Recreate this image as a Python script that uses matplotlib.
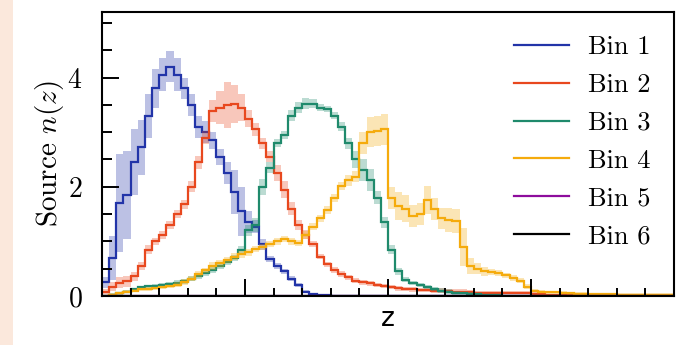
import numpy as np
import matplotlib
matplotlib.use("Agg")
import matplotlib.pyplot as plt
from matplotlib.patches import Rectangle
from matplotlib.ticker import MultipleLocator, NullFormatter

plt.rcParams["font.family"] = "serif"
plt.rcParams["font.serif"] = ["cmr10", "DejaVu Serif"]
plt.rcParams["mathtext.fontset"] = "cm"
plt.rcParams["axes.formatter.use_mathtext"] = True

# Redshift grid (bin edges) shared by all tomographic bins
Z_EDGES = np.round(np.arange(0.0, 4.0 + 1e-9, 0.05), 2)
N_STEPS = len(Z_EDGES) - 1

bin_labels = ["Bin 1", "Bin 2", "Bin 3", "Bin 4", "Bin 5", "Bin 6"]
bin_colors = ["#2234a8", "#e8481e", "#1f8a6c", "#f5ab0c", "#8e0c9c", "#000000"]

# n(z) per step; values beyond the end of each list are zero
nz_bin1 = [0.25, 0.7, 1.7, 1.85, 2.45, 2.72, 3.3, 3.8, 4.05, 4.2,
           4.05, 3.8, 3.5, 3.1, 3.0, 2.85, 2.55, 2.25, 1.9, 1.55,
           1.35, 1.27, 0.95, 0.68, 0.55, 0.45, 0.32, 0.2, 0.08, 0.03,
           0.02, 0.01]
err_bin1 = [0.1, 0.4, 0.9, 0.8, 0.6, 0.5, 0.4, 0.35, 0.3, 0.28,
            0.3, 0.2, 0.2, 0.2, 0.2, 0.15, 0.15, 0.2, 0.4, 0.45,
            0.2, 0.12, 0.1, 0.06, 0.05, 0.05, 0.04, 0.04, 0.03, 0.03,
            0.02, 0.02]

nz_bin2 = [0.08, 0.17, 0.24, 0.27, 0.36, 0.55, 0.85, 1.0, 1.12, 1.3,
           1.5, 1.68, 2.0, 2.45, 2.9, 3.38, 3.45, 3.5, 3.52, 3.45,
           3.25, 3.05, 2.8, 2.55, 2.25, 1.95, 1.6, 1.3, 1.12, 0.95,
           0.72, 0.58, 0.48, 0.4, 0.34, 0.28, 0.25, 0.23, 0.2, 0.18,
           0.16, 0.14, 0.13, 0.12, 0.11, 0.11, 0.1, 0.1, 0.09, 0.08,
           0.08, 0.07, 0.06, 0.06, 0.06, 0.06, 0.06, 0.06, 0.06, 0.06,
           0.04, 0.03, 0.02, 0.02, 0.01, 0.01]
err_bin2 = [0.05, 0.08, 0.1, 0.1, 0.08, 0.08, 0.08, 0.07, 0.07, 0.07,
            0.08, 0.08, 0.1, 0.12, 0.12, 0.2, 0.3, 0.42, 0.35, 0.25,
            0.15, 0.12, 0.1, 0.1, 0.15, 0.15, 0.12, 0.1, 0.08, 0.06,
            0.05, 0.05, 0.05, 0.05, 0.05, 0.05, 0.05, 0.05, 0.04, 0.04,
            0.04, 0.04, 0.04, 0.04, 0.04, 0.04, 0.04, 0.04, 0.04, 0.04,
            0.04, 0.04, 0.03, 0.03, 0.03, 0.03, 0.03, 0.03, 0.03, 0.03,
            0.03, 0.03, 0.02, 0.02, 0.02, 0.02]

nz_bin3 = [0.0, 0.02, 0.05, 0.08, 0.12, 0.16, 0.18, 0.19, 0.2, 0.22,
           0.24, 0.27, 0.32, 0.37, 0.42, 0.48, 0.55, 0.62, 0.7, 0.85,
           1.2, 1.3, 2.0, 2.35, 2.8, 2.95, 3.3, 3.45, 3.52, 3.52,
           3.45, 3.42, 3.3, 3.1, 2.8, 2.5, 2.3, 2.12, 1.8, 1.35,
           0.85, 0.45, 0.3, 0.24, 0.2, 0.16, 0.13, 0.1, 0.08, 0.06,
           0.05, 0.04, 0.03, 0.02, 0.02, 0.01]
err_bin3 = [0.02, 0.03, 0.03, 0.03, 0.03, 0.03, 0.03, 0.03, 0.03, 0.03,
            0.05, 0.05, 0.05, 0.05, 0.05, 0.05, 0.05, 0.05, 0.05, 0.06,
            0.1, 0.12, 0.15, 0.1, 0.08, 0.08, 0.1, 0.1, 0.1, 0.08,
            0.06, 0.06, 0.06, 0.08, 0.1, 0.15, 0.2, 0.2, 0.12, 0.1,
            0.08, 0.06, 0.04, 0.04, 0.04, 0.04, 0.04, 0.04, 0.04, 0.04,
            0.03, 0.03, 0.03, 0.02, 0.02, 0.02]

nz_bin4 = [0.0, 0.02, 0.05, 0.08, 0.1, 0.12, 0.13, 0.14, 0.16, 0.18,
           0.21, 0.26, 0.32, 0.4, 0.47, 0.55, 0.6, 0.66, 0.72, 0.76,
           0.8, 0.86, 0.9, 0.95, 1.0, 1.04, 1.0, 0.97, 1.12, 1.27,
           1.42, 1.58, 1.8, 2.02, 2.12, 2.18, 2.8, 3.0, 3.02, 3.05,
           1.8, 1.65, 1.6, 1.47, 1.5, 1.76, 1.6, 1.42, 1.4, 1.38,
           0.9, 0.55, 0.5, 0.45, 0.44, 0.42, 0.38, 0.33, 0.28, 0.17,
           0.1, 0.08, 0.07, 0.07, 0.06, 0.05, 0.04, 0.04, 0.03, 0.03,
           0.03, 0.03, 0.02, 0.02, 0.02, 0.02, 0.02, 0.02, 0.02, 0.02]
err_bin4 = [0.02, 0.03, 0.03, 0.03, 0.03, 0.03, 0.03, 0.03, 0.03, 0.03,
            0.05, 0.05, 0.05, 0.05, 0.05, 0.07, 0.06, 0.06, 0.06, 0.06,
            0.06, 0.06, 0.06, 0.06, 0.06, 0.06, 0.06, 0.06, 0.07, 0.07,
            0.07, 0.07, 0.07, 0.07, 0.1, 0.1, 0.2, 0.27, 0.28, 0.28,
            0.2, 0.25, 0.25, 0.2, 0.2, 0.25, 0.2, 0.2, 0.22, 0.22,
            0.35, 0.15, 0.1, 0.08, 0.05, 0.05, 0.05, 0.05, 0.05, 0.05,
            0.03, 0.03, 0.03, 0.03, 0.03, 0.03, 0.03, 0.03, 0.03, 0.03,
            0.03, 0.03, 0.03, 0.03, 0.03, 0.03, 0.03, 0.03, 0.03, 0.03]

# Bins 5 and 6 have no support inside the plotted redshift range
nz_bin5 = []
err_bin5 = []
nz_bin6 = []
err_bin6 = []

all_nz = [nz_bin1, nz_bin2, nz_bin3, nz_bin4, nz_bin5, nz_bin6]
all_err = [err_bin1, err_bin2, err_bin3, err_bin4, err_bin5, err_bin6]


def padded(values):
    out = np.zeros(N_STEPS)
    out[:len(values)] = values
    return out


fig = plt.figure(figsize=(6.89, 3.45), dpi=100)
fig.patches.append(Rectangle((0, 0), 13 / 689, 1, transform=fig.transFigure,
                             facecolor="#fbe8dc", edgecolor="none", zorder=0))
ax = fig.add_axes([102 / 689, 49 / 345, 572 / 689, 284 / 345])

for label, color, nz, err in zip(bin_labels, bin_colors, all_nz, all_err):
    mean = padded(nz)
    sig = padded(err)
    if np.any(sig > 0):
        ax.stairs(mean + sig, Z_EDGES, baseline=np.clip(mean - sig, 0, None),
                  fill=True, color=color, alpha=0.3, linewidth=0)
    ax.stairs(mean, Z_EDGES, baseline=None, color=color, linewidth=1.6,
              label=label)

ax.set_xlim(0, 4)
ax.set_ylim(0, 5.2)
ax.set_yticks([0, 2, 4])
ax.yaxis.set_minor_locator(MultipleLocator(0.5))
ax.xaxis.set_major_locator(MultipleLocator(1))
ax.xaxis.set_minor_locator(MultipleLocator(0.2))
ax.xaxis.set_major_formatter(NullFormatter())
ax.tick_params(which="both", direction="in", width=1.4, top=False, right=False)
ax.tick_params(which="major", length=12)
ax.tick_params(axis="y", which="minor", length=7)
ax.tick_params(axis="x", which="minor", length=6)
ax.tick_params(axis="y", which="major", labelsize=20, pad=14)
for sp in ax.spines.values():
    sp.set_linewidth(1.5)

ax.set_ylabel("Source $n(z)$", fontsize=21, labelpad=1)
ax.set_xlabel("z", fontsize=19, family="DejaVu Sans", labelpad=4)

leg = ax.legend(loc="upper right", frameon=False, fontsize=19,
                handlelength=2.1, handletextpad=0.7, labelspacing=0.53,
                borderaxespad=0.5)

fig.savefig("out.png", dpi=100)
